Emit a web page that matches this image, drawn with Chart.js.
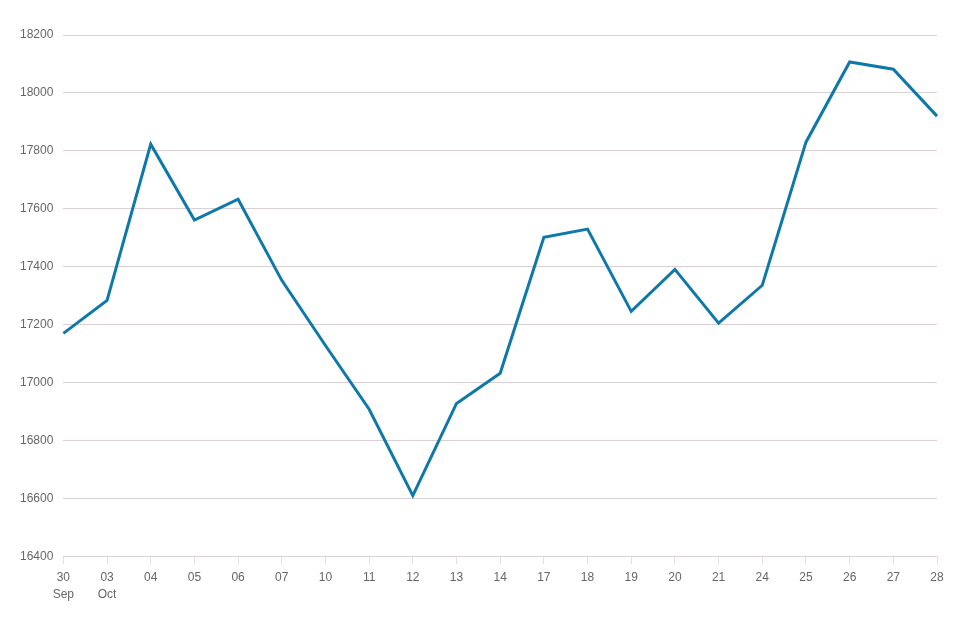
<!DOCTYPE html>
<html lang="en">
<head>
    <meta charset="UTF-8">
    <title>Line chart</title>
    <script src="https://cdn.jsdelivr.net/npm/chart.js@4.4.0/dist/chart.umd.min.js"></script>
    <style>
        html, body { margin: 0; padding: 0; background: #fff; }
        #wrap { width: 973px; height: 634px; }
    </style>
</head>
<body>
    <div id="wrap"><canvas id="lineChart"></canvas></div>

    <script>
        // chart data
        const categories = [['30', 'Sep'], ['03', 'Oct'], '04', '05', '06', '07', '10', '11', '12', '13', '14',
            '17', '18', '19', '20', '21', '24', '25', '26', '27', '28'];
        const values = [17170, 17284, 17823, 17561, 17633, 17353, 17128, 16908, 16610, 16928, 17032,
            17502, 17530, 17246, 17391, 17205, 17336, 17830, 18107, 18082, 17920];
        const yTicks = [16400, 16600, 16800, 17000, 17200, 17400, 17600, 17800, 18000, 18200];

        Chart.defaults.font.family = 'Arial, "Liberation Sans", sans-serif';
        Chart.defaults.font.size = 12;
        Chart.defaults.color = '#666';

        const ctx = document.getElementById('lineChart').getContext('2d');
        new Chart(ctx, {
            type: 'line',
            data: {
                labels: categories,
                datasets: [{
                    data: values,
                    borderColor: '#0f78ab',
                    borderWidth: 3,
                    pointRadius: 0,
                    tension: 0,
                    fill: false
                }]
            },
            options: {
                responsive: true,
                maintainAspectRatio: false,
                animation: false,
                layout: { padding: { left: 10, right: 36, top: 35, bottom: 26 } },
                plugins: { legend: { display: false }, tooltip: { enabled: false } },
                scales: {
                    x: {
                        offset: false,
                        grid: { drawOnChartArea: false, color: '#e6e0e3', tickLength: 8 },
                        border: { display: false },
                        ticks: { maxRotation: 0, autoSkip: false, padding: 5, font: { lineHeight: 1.4 } }
                    },
                    y: {
                        min: 16400,
                        max: 18200,
                        afterBuildTicks: axis => { axis.ticks = yTicks.map(v => ({ value: v })); },
                        grid: { color: '#dccfd5', drawTicks: false },
                        border: { display: false },
                        ticks: { padding: 10, callback: v => String(v) }
                    }
                }
            }
        });
    </script>
</body>
</html>
